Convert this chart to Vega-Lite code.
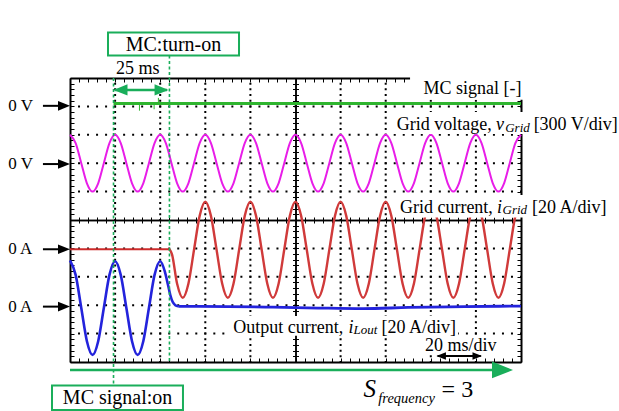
{
"$schema": "https://vega.github.io/schema/vega-lite/v6.json",
"width": 451, "height": 284,
"autosize": {"type": "none"},
"padding": {"left": 70, "top": 78, "right": 98, "bottom": 49},
"background": "white",
"config": {"view": {"stroke": null}, "axis": {"labels": false, "grid": false, "domainColor": "#000", "tickColor": "#000", "tickWidth": 1, "domainWidth": 2}},
"datasets": {
"one": [{"x": 0, "y": 0}],
"traces": [
{"s":"p","x":0,"y":8},{"s":"p","x":2.5,"y":7.707},{"s":"p","x":5,"y":7},{"s":"p","x":7.5,"y":6.293},{"s":"p","x":10,"y":6},{"s":"p","x":12.5,"y":6.293},{"s":"p","x":15,"y":7},{"s":"p","x":17.5,"y":7.707},
{"s":"p","x":20,"y":8},{"s":"p","x":22.5,"y":7.707},{"s":"p","x":25,"y":7},{"s":"p","x":27.5,"y":6.293},{"s":"p","x":30,"y":6},{"s":"p","x":32.5,"y":6.293},{"s":"p","x":35,"y":7},{"s":"p","x":37.5,"y":7.707},
{"s":"p","x":40,"y":8},{"s":"p","x":42.5,"y":7.707},{"s":"p","x":45,"y":7},{"s":"p","x":47.5,"y":6.293},{"s":"p","x":50,"y":6},{"s":"p","x":52.5,"y":6.293},{"s":"p","x":55,"y":7},{"s":"p","x":57.5,"y":7.707},
{"s":"p","x":60,"y":8},{"s":"p","x":62.5,"y":7.707},{"s":"p","x":65,"y":7},{"s":"p","x":67.5,"y":6.293},{"s":"p","x":70,"y":6},{"s":"p","x":72.5,"y":6.293},{"s":"p","x":75,"y":7},{"s":"p","x":77.5,"y":7.707},
{"s":"p","x":80,"y":8},{"s":"p","x":82.5,"y":7.707},{"s":"p","x":85,"y":7},{"s":"p","x":87.5,"y":6.293},{"s":"p","x":90,"y":6},{"s":"p","x":92.5,"y":6.293},{"s":"p","x":95,"y":7},{"s":"p","x":97.5,"y":7.707},
{"s":"p","x":100,"y":8},{"s":"p","x":102.5,"y":7.707},{"s":"p","x":105,"y":7},{"s":"p","x":107.5,"y":6.293},{"s":"p","x":110,"y":6},{"s":"p","x":112.5,"y":6.293},{"s":"p","x":115,"y":7},{"s":"p","x":117.5,"y":7.707},
{"s":"p","x":120,"y":8},{"s":"p","x":122.5,"y":7.707},{"s":"p","x":125,"y":7},{"s":"p","x":127.5,"y":6.293},{"s":"p","x":130,"y":6},{"s":"p","x":132.5,"y":6.293},{"s":"p","x":135,"y":7},{"s":"p","x":137.5,"y":7.707},
{"s":"p","x":140,"y":8},{"s":"p","x":142.5,"y":7.707},{"s":"p","x":145,"y":7},{"s":"p","x":147.5,"y":6.293},{"s":"p","x":150,"y":6},{"s":"p","x":152.5,"y":6.293},{"s":"p","x":155,"y":7},{"s":"p","x":157.5,"y":7.707},
{"s":"p","x":160,"y":8},{"s":"p","x":162.5,"y":7.707},{"s":"p","x":165,"y":7},{"s":"p","x":167.5,"y":6.293},{"s":"p","x":170,"y":6},{"s":"p","x":172.5,"y":6.293},{"s":"p","x":175,"y":7},{"s":"p","x":177.5,"y":7.707},
{"s":"p","x":180,"y":8},{"s":"p","x":182.5,"y":7.707},{"s":"p","x":185,"y":7},{"s":"p","x":187.5,"y":6.293},{"s":"p","x":190,"y":6},{"s":"p","x":192.5,"y":6.293},{"s":"p","x":195,"y":7},{"s":"p","x":197.5,"y":7.707},
{"s":"p","x":200,"y":8},
{"s":"r0","x":0,"y":3.97},{"s":"r0","x":44.1,"y":3.97},
{"s":"r","x":44.1,"y":3.97},{"s":"r","x":45.2,"y":3.8},{"s":"r","x":47.5,"y":2.755},{"s":"r","x":50,"y":2.26},{"s":"r","x":52.5,"y":2.755},{"s":"r","x":55,"y":3.95},{"s":"r","x":57.5,"y":5.145},
{"s":"r","x":60,"y":5.64},{"s":"r","x":62.5,"y":5.145},{"s":"r","x":65,"y":3.95},{"s":"r","x":67.5,"y":2.755},{"s":"r","x":70,"y":2.26},{"s":"r","x":72.5,"y":2.755},{"s":"r","x":75,"y":3.95},{"s":"r","x":77.5,"y":5.145},
{"s":"r","x":80,"y":5.64},{"s":"r","x":82.5,"y":5.145},{"s":"r","x":85,"y":3.95},{"s":"r","x":87.5,"y":2.755},{"s":"r","x":90,"y":2.26},{"s":"r","x":92.5,"y":2.755},{"s":"r","x":95,"y":3.95},{"s":"r","x":97.5,"y":5.145},
{"s":"r","x":100,"y":5.64},{"s":"r","x":102.5,"y":5.145},{"s":"r","x":105,"y":3.95},{"s":"r","x":107.5,"y":2.755},{"s":"r","x":110,"y":2.26},{"s":"r","x":112.5,"y":2.755},{"s":"r","x":115,"y":3.95},{"s":"r","x":117.5,"y":5.145},
{"s":"r","x":120,"y":5.64},{"s":"r","x":122.5,"y":5.145},{"s":"r","x":125,"y":3.95},{"s":"r","x":127.5,"y":2.755},{"s":"r","x":130,"y":2.26},{"s":"r","x":132.5,"y":2.755},{"s":"r","x":135,"y":3.95},{"s":"r","x":137.5,"y":5.145},
{"s":"r","x":140,"y":5.64},{"s":"r","x":142.5,"y":5.145},{"s":"r","x":145,"y":3.95},{"s":"r","x":147.5,"y":2.755},{"s":"r","x":150,"y":2.26},{"s":"r","x":152.5,"y":2.755},{"s":"r","x":155,"y":3.95},{"s":"r","x":157.5,"y":5.145},
{"s":"r","x":160,"y":5.64},{"s":"r","x":162.5,"y":5.145},{"s":"r","x":165,"y":3.95},{"s":"r","x":167.5,"y":2.755},{"s":"r","x":170,"y":2.26},{"s":"r","x":172.5,"y":2.755},{"s":"r","x":175,"y":3.95},{"s":"r","x":177.5,"y":5.145},
{"s":"r","x":180,"y":5.64},{"s":"r","x":182.5,"y":5.145},{"s":"r","x":185,"y":3.95},{"s":"r","x":187.5,"y":2.755},{"s":"r","x":190,"y":2.26},{"s":"r","x":192.5,"y":2.755},{"s":"r","x":195,"y":3.95},{"s":"r","x":197.5,"y":5.145},
{"s":"r","x":200,"y":5.64},
{"s":"b0","x":0,"y":3.58},{"s":"b0","x":2.5,"y":3.067},{"s":"b0","x":5,"y":1.9},{"s":"b0","x":7.5,"y":0.733},{"s":"b0","x":10,"y":0.25},{"s":"b0","x":12.5,"y":0.733},{"s":"b0","x":15,"y":1.9},{"s":"b0","x":17.5,"y":3.067},
{"s":"b0","x":20,"y":3.55},{"s":"b0","x":22.5,"y":3.067},{"s":"b0","x":25,"y":1.9},{"s":"b0","x":27.5,"y":0.733},{"s":"b0","x":30,"y":0.25},{"s":"b0","x":32.5,"y":0.733},{"s":"b0","x":35,"y":1.9},{"s":"b0","x":37.5,"y":3.067},
{"s":"b0","x":40,"y":3.55},{"s":"b0","x":42,"y":3.2},{"s":"b0","x":43.5,"y":2.7},{"s":"b0","x":44.5,"y":2.35},{"s":"b0","x":45.5,"y":2.12},{"s":"b0","x":46.7,"y":2.0},{"s":"b0","x":48,"y":1.96},
{"s":"b","x":48,"y":1.96},{"s":"b","x":70,"y":1.95},{"s":"b","x":90,"y":1.93},{"s":"b","x":110,"y":1.9},{"s":"b","x":130,"y":1.88},{"s":"b","x":150,"y":1.92},{"s":"b","x":175,"y":1.95},{"s":"b","x":200,"y":1.97},
{"s":"g","x":19.3,"y":9.1},{"s":"g","x":200,"y":9.1}
],
"spikes": [{"x":30.8,"y":9.1,"y2":8.85},{"x":37.3,"y":9.1,"y2":8.9},{"x":39.2,"y":9.1,"y2":9.3}],
"vgrid": [{"x":20,"y":0,"y2":10},{"x":40,"y":0,"y2":10},{"x":60,"y":0,"y2":10},{"x":80,"y":0,"y2":10},{"x":120,"y":0,"y2":10},{"x":140,"y":0,"y2":10},{"x":160,"y":0,"y2":10},{"x":180,"y":0,"y2":10}],
"hgrid": [{"x":0,"x2":200,"y":1},{"x":0,"x2":200,"y":2},{"x":0,"x2":200,"y":3},{"x":0,"x2":200,"y":4},{"x":0,"x2":200,"y":6},{"x":0,"x2":200,"y":7},{"x":0,"x2":200,"y":8},{"x":0,"x2":200,"y":9}],
"gdash": [{"x":19.3,"y":10,"y2":-0.83},{"x":44.1,"y":10.79,"y2":0}],
"labelbg": [{"x":150.8,"x2":201.8,"y":9.23,"y2":10.35},{"x":143.2,"x2":244,"y":8.03,"y2":8.8},{"x":145,"x2":239.5,"y":5.09,"y2":5.88},{"x":71.4,"x2":172.1,"y":0.92,"y2":1.62},{"x":156.5,"x2":190.7,"y":0.32,"y2":0.92}],
"boxes": [{"x":16.85,"x2":74.95,"y":10.79,"y2":11.6},{"x":-7.98,"x2":50.1,"y":-1.69,"y2":-0.83}],
"blackLines": [{"x":-12,"x2":-3,"y":9.02},{"x":-12,"x2":-3,"y":6.97},{"x":-12,"x2":-3,"y":3.97},{"x":-12,"x2":-3,"y":1.95},{"x":163,"x2":182.2,"y":0.21}],
"blackHeads": [{"x":-2.66,"y":9.02,"d":"R"},{"x":-2.66,"y":6.97,"d":"R"},{"x":-2.66,"y":3.97,"d":"R"},{"x":-2.66,"y":1.95,"d":"R"}],
"smallHeads": [{"x":164.6,"y":0.21,"d":"L"},{"x":180.6,"y":0.21,"d":"R"}],
"greenLines": [{"x":20,"x2":43,"y":9.58}],
"greenHeads": [{"x":22.4,"y":9.58,"d":"L"},{"x":40.6,"y":9.58,"d":"R"}],
"bigLine": [{"x":0,"x2":188.5,"y":-0.28}],
"bigHead": [{"x":191.8,"y":-0.28,"d":"R"}],
"tNorm": [{"x":156.8,"y":9.43,"text":"MC signal [-]"},{"x":144.9,"y":8.17,"text":"Grid voltage,"},{"x":205.6,"y":8.17,"text":"[300 V/div]"},{"x":146.3,"y":5.26,"text":"Grid current,"},{"x":204.9,"y":5.26,"text":"[20 A/div]"},{"x":72.4,"y":1.03,"text":"Output current,"},{"x":138.1,"y":1.03,"text":"[20 A/div]"},{"x":157.4,"y":0.4,"text":"20 ms/div"},{"x":20.4,"y":10.14,"text":"25 ms"}],
"tItal": [{"x":188.9,"y":8.17,"text":"v"},{"x":189.4,"y":5.26,"text":"i"},{"x":123.5,"y":1.03,"text":"i"}],
"tSub": [{"x":193.0,"y":8.1,"text":"Grid"},{"x":191.8,"y":5.21,"text":"Grid"},{"x":125.7,"y":0.99,"text":"Lout"}],
"tZero": [{"x":-27.4,"y":9.02,"text":"0 V"},{"x":-27.4,"y":6.97,"text":"0 V"},{"x":-27.4,"y":3.97,"text":"0 A"},{"x":-27.4,"y":1.95,"text":"0 A"}],
"tBox": [{"x":45.9,"y":11.16,"text":"MC:turn-on"},{"x":21.1,"y":-1.27,"text":"MC signal:on"}],
"tS": [{"x":130.1,"y":-1.22,"text":"S"}],
"tFreq": [{"x":136.7,"y":-1.44,"text":"frequency"}],
"tEq": [{"x":164.8,"y":-1.22,"text":"= 3"}]
},
"encoding": {
"x": {"field": "x", "type": "quantitative", "scale": {"domain": [0, 200], "nice": false, "zero": false}, "axis": null},
"y": {"field": "y", "type": "quantitative", "scale": {"domain": [0, 10], "nice": false, "zero": false}, "axis": null}
},
"resolve": {"axis": {"x": "independent", "y": "independent"}},
"layer": [
{"data": {"name": "one"}, "mark": {"type": "point", "opacity": 0},
 "encoding": {
  "x": {"field": "x", "type": "quantitative", "scale": {"domain": [0, 200], "nice": false, "zero": false}, "axis": {"orient": "bottom", "title": null, "tickSize": -4, "values": [0,4,8,12,16,20,24,28,32,36,40,44,48,52,56,60,64,68,72,76,80,84,88,92,96,100,104,108,112,116,120,124,128,132,136,140,144,148,152,156,160,164,168,172,176,180,184,188,192,196,200]}},
  "y": {"field": "y", "type": "quantitative", "scale": {"domain": [0, 10], "nice": false, "zero": false}, "axis": {"orient": "left", "title": null, "tickSize": -4, "values": [0,0.2,0.4,0.6,0.8,1,1.2,1.4,1.6,1.8,2,2.2,2.4,2.6,2.8,3,3.2,3.4,3.6,3.8,4,4.2,4.4,4.6,4.8,5,5.2,5.4,5.6,5.8,6,6.2,6.4,6.6,6.8,7,7.2,7.4,7.6,7.8,8,8.2,8.4,8.6,8.8,9,9.2,9.4,9.6,9.8,10]}}}},
{"data": {"name": "one"}, "mark": {"type": "point", "opacity": 0},
 "encoding": {
  "x": {"field": "x", "type": "quantitative", "scale": {"domain": [0, 200], "nice": false, "zero": false}, "axis": {"orient": "top", "title": null, "tickSize": -4, "values": [0,4,8,12,16,20,24,28,32,36,40,44,48,52,56,60,64,68,72,76,80,84,88,92,96,100,104,108,112,116,120,124,128,132,136,140,144,148,152,156,160,164,168,172,176,180,184,188,192,196,200]}},
  "y": {"field": "y", "type": "quantitative", "scale": {"domain": [0, 10], "nice": false, "zero": false}, "axis": {"orient": "right", "title": null, "tickSize": -4, "values": [0,0.2,0.4,0.6,0.8,1,1.2,1.4,1.6,1.8,2,2.2,2.4,2.6,2.8,3,3.2,3.4,3.6,3.8,4,4.2,4.4,4.6,4.8,5,5.2,5.4,5.6,5.8,6,6.2,6.4,6.6,6.8,7,7.2,7.4,7.6,7.8,8,8.2,8.4,8.6,8.8,9,9.2,9.4,9.6,9.8,10]}}}},
{"data": {"name": "one"}, "mark": {"type": "point", "opacity": 0},
 "encoding": {
  "x": {"field": "x", "type": "quantitative", "scale": {"domain": [0, 200], "nice": false, "zero": false}, "axis": {"orient": "bottom", "offset": -142, "title": null, "tickSize": 3, "domainWidth": 1.5, "values": [0,4,8,12,16,20,24,28,32,36,40,44,48,52,56,60,64,68,72,76,80,84,88,92,96,100,104,108,112,116,120,124,128,132,136,140,144,148,152,156,160,164,168,172,176,180,184,188,192,196,200]}},
  "y": {"field": "y", "type": "quantitative", "scale": {"domain": [0, 10], "nice": false, "zero": false}, "axis": {"orient": "left", "offset": -225.5, "title": null, "tickSize": 3, "domainWidth": 1.5, "values": [0,0.2,0.4,0.6,0.8,1,1.2,1.4,1.6,1.8,2,2.2,2.4,2.6,2.8,3,3.2,3.4,3.6,3.8,4,4.2,4.4,4.6,4.8,5,5.2,5.4,5.6,5.8,6,6.2,6.4,6.6,6.8,7,7.2,7.4,7.6,7.8,8,8.2,8.4,8.6,8.8,9,9.2,9.4,9.6,9.8,10]}}}},
{"data": {"name": "one"}, "mark": {"type": "point", "opacity": 0},
 "encoding": {
  "x": {"field": "x", "type": "quantitative", "scale": {"domain": [0, 200], "nice": false, "zero": false}, "axis": {"orient": "top", "offset": -142, "title": null, "tickSize": 3, "domainWidth": 1.5, "values": [0,4,8,12,16,20,24,28,32,36,40,44,48,52,56,60,64,68,72,76,80,84,88,92,96,100,104,108,112,116,120,124,128,132,136,140,144,148,152,156,160,164,168,172,176,180,184,188,192,196,200]}},
  "y": {"field": "y", "type": "quantitative", "scale": {"domain": [0, 10], "nice": false, "zero": false}, "axis": {"orient": "right", "offset": -225.5, "title": null, "tickSize": 3, "domainWidth": 1.5, "values": [0,0.2,0.4,0.6,0.8,1,1.2,1.4,1.6,1.8,2,2.2,2.4,2.6,2.8,3,3.2,3.4,3.6,3.8,4,4.2,4.4,4.6,4.8,5,5.2,5.4,5.6,5.8,6,6.2,6.4,6.6,6.8,7,7.2,7.4,7.6,7.8,8,8.2,8.4,8.6,8.8,9,9.2,9.4,9.6,9.8,10]}}}},
{"data": {"name": "vgrid"}, "mark": {"type": "rule", "color": "#000", "strokeWidth": 2, "strokeDash": [2, 3.68], "strokeDashOffset": 1},
 "encoding": {"y2": {"field": "y2"}}},
{"data": {"name": "hgrid"}, "mark": {"type": "rule", "color": "#000", "strokeWidth": 2, "strokeDash": [2, 7.02], "strokeDashOffset": 1},
 "encoding": {"x2": {"field": "x2"}}},
{"data": {"name": "traces"}, "mark": {"type": "line", "interpolate": "monotone"},
 "encoding": {
  "color": {"field": "s", "type": "nominal", "legend": null, "scale": {"domain": ["p","r0","r","b0","b","g"], "range": ["#e81de8","#cc2b2b","#d03a3a","#2323dc","#2323dc","#2fb52f"]}},
  "size": {"field": "s", "type": "nominal", "legend": null, "scale": {"domain": ["p","r0","r","b0","b","g"], "range": [2, 3, 1.5, 2.2, 4, 4.5]}}}},
{"data": {"name": "spikes"}, "mark": {"type": "rule", "color": "#2fb52f", "strokeWidth": 1},
 "encoding": {"y2": {"field": "y2"}}},
{"data": {"name": "gdash"}, "mark": {"type": "rule", "color": "#1aae5a", "strokeWidth": 1.6, "strokeDash": [3, 2.5]},
 "encoding": {"y2": {"field": "y2"}}},
{"data": {"name": "labelbg"}, "mark": {"type": "rect", "color": "white"},
 "encoding": {"x2": {"field": "x2"}, "y2": {"field": "y2"}}},
{"data": {"name": "boxes"}, "mark": {"type": "rect", "fill": "white", "stroke": "#1aae5a", "strokeWidth": 2},
 "encoding": {"x2": {"field": "x2"}, "y2": {"field": "y2"}}},
{"data": {"name": "blackLines"}, "mark": {"type": "rule", "color": "#000", "strokeWidth": 2},
 "encoding": {"x2": {"field": "x2"}}},
{"data": {"name": "blackHeads"}, "mark": {"type": "point", "filled": true, "color": "#000", "opacity": 1, "size": 144, "strokeWidth": 0},
 "encoding": {"shape": {"field": "d", "type": "nominal", "legend": null, "scale": {"domain": ["L","R"], "range": ["M1,-0.8L-1,0L1,0.8Z", "M-1,-0.8L1,0L-1,0.8Z"]}}}},
{"data": {"name": "smallHeads"}, "mark": {"type": "point", "filled": true, "color": "#000", "opacity": 1, "size": 90, "strokeWidth": 0},
 "encoding": {"shape": {"field": "d", "type": "nominal", "legend": null, "scale": {"domain": ["L","R"], "range": ["M1,-0.8L-1,0L1,0.8Z", "M-1,-0.8L1,0L-1,0.8Z"]}}}},
{"data": {"name": "greenLines"}, "mark": {"type": "rule", "color": "#1aae5a", "strokeWidth": 2.5},
 "encoding": {"x2": {"field": "x2"}}},
{"data": {"name": "greenHeads"}, "mark": {"type": "point", "filled": true, "color": "#1aae5a", "opacity": 1, "size": 196, "strokeWidth": 0},
 "encoding": {"shape": {"field": "d", "type": "nominal", "legend": null, "scale": {"domain": ["L","R"], "range": ["M1,-0.8L-1,0L1,0.8Z", "M-1,-0.8L1,0L-1,0.8Z"]}}}},
{"data": {"name": "bigLine"}, "mark": {"type": "rule", "color": "#1aae5a", "strokeWidth": 2.5},
 "encoding": {"x2": {"field": "x2"}}},
{"data": {"name": "bigHead"}, "mark": {"type": "point", "filled": true, "color": "#1aae5a", "opacity": 1, "size": 441, "strokeWidth": 0},
 "encoding": {"shape": {"field": "d", "type": "nominal", "legend": null, "scale": {"domain": ["L","R"], "range": ["M1,-0.8L-1,0L1,0.8Z", "M-1,-0.8L1,0L-1,0.8Z"]}}}},
{"data": {"name": "tNorm"}, "mark": {"type": "text", "font": "Liberation Serif", "fontSize": 18, "align": "left", "baseline": "alphabetic", "color": "#000"},
 "encoding": {"text": {"field": "text"}}},
{"data": {"name": "tItal"}, "mark": {"type": "text", "font": "Liberation Serif", "fontSize": 18, "fontStyle": "italic", "align": "left", "baseline": "alphabetic", "color": "#000"},
 "encoding": {"text": {"field": "text"}}},
{"data": {"name": "tSub"}, "mark": {"type": "text", "font": "Liberation Serif", "fontSize": 13, "fontStyle": "italic", "align": "left", "baseline": "alphabetic", "color": "#000"},
 "encoding": {"text": {"field": "text"}}},
{"data": {"name": "tZero"}, "mark": {"type": "text", "font": "Liberation Serif", "fontSize": 17, "align": "left", "baseline": "middle", "color": "#000"},
 "encoding": {"text": {"field": "text"}}},
{"data": {"name": "tBox"}, "mark": {"type": "text", "font": "Liberation Serif", "fontSize": 20, "align": "center", "baseline": "middle", "color": "#000"},
 "encoding": {"text": {"field": "text"}}},
{"data": {"name": "tS"}, "mark": {"type": "text", "font": "Liberation Serif", "fontSize": 25, "fontStyle": "italic", "align": "left", "baseline": "alphabetic", "color": "#000"},
 "encoding": {"text": {"field": "text"}}},
{"data": {"name": "tFreq"}, "mark": {"type": "text", "font": "Liberation Serif", "fontSize": 14.5, "fontStyle": "italic", "align": "left", "baseline": "alphabetic", "color": "#000"},
 "encoding": {"text": {"field": "text"}}},
{"data": {"name": "tEq"}, "mark": {"type": "text", "font": "Liberation Serif", "fontSize": 24, "align": "left", "baseline": "alphabetic", "color": "#000"},
 "encoding": {"text": {"field": "text"}}}
]
}
